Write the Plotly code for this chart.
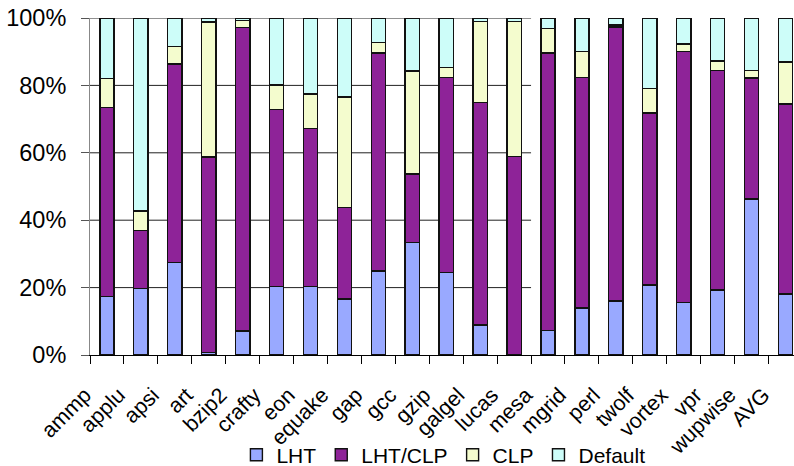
import plotly.graph_objects as go

# Benchmarks and the share (%) of each policy, stacked to 100%
benchmarks = ["ammp", "applu", "apsi", "art", "bzip2", "crafty", "eon", "equake",
              "gap", "gcc", "gzip", "galgel", "lucas", "mesa", "mgrid", "perl",
              "twolf", "vortex", "vpr", "wupwise", "AVG"]

lht = [17.3, 19.7, 27.5, 0.7, 7.1, 20.3, 20.3, 16.6, 24.9, 33.4, 24.4,
       8.9, 0.0, 7.2, 14.0, 16.0, 20.8, 15.5, 19.3, 46.3, 18.1]
lht_clp = [56.1, 17.2, 58.9, 58.1, 90.0, 52.6, 47.0, 27.1, 64.7, 20.3, 57.9,
           66.1, 58.9, 82.4, 68.3, 81.3, 51.0, 74.6, 65.1, 35.9, 56.4]
clp = [8.7, 5.8, 5.2, 40.0, 2.1, 7.2, 10.2, 32.8, 3.1, 30.6, 3.0,
       23.9, 40.0, 7.2, 7.8, 0.6, 7.3, 2.2, 2.9, 2.2, 12.4]
default = [17.9, 57.3, 8.4, 1.2, 0.8, 19.9, 22.5, 23.5, 7.3, 15.7, 14.7,
           1.1, 1.1, 3.2, 9.9, 2.1, 20.9, 7.7, 12.7, 15.6, 13.1]

series_names = ["LHT", "LHT/CLP", "CLP", "Default"]
series_values = [lht, lht_clp, clp, default]
series_colors = ["#99A9FF", "#8E2398", "#F4FCCE", "#CDFDF9"]

y_ticks = [0, 20, 40, 60, 80, 100]
y_tick_labels = [f"{v}%" for v in y_ticks]

FONT = "Liberation Sans, Arial, sans-serif"

fig = go.Figure()
for name, vals, color in zip(series_names, series_values, series_colors):
    fig.add_trace(go.Bar(
        x=benchmarks, y=vals, name=name,
        marker=dict(color=color, line=dict(color="#111111", width=1.4)),
    ))

# horizontal grid lines, drawn behind the bars over the first group of benchmarks
for v in y_ticks[1:]:
    fig.add_shape(type="line", xref="x", yref="y", x0=-0.5, x1=12.5, y0=v, y1=v,
                  line=dict(color="#222222", width=1), layer="below")

fig.update_layout(
    width=794, height=466,
    margin=dict(l=90, r=0, t=18, b=111, autoexpand=False),
    barmode="stack",
    bargap=0.58,
    plot_bgcolor="white",
    paper_bgcolor="white",
    font=dict(family=FONT, color="black"),
    showlegend=True,
    legend=dict(
        orientation="h", traceorder="normal",
        x=0.502, xanchor="center",
        y=-0.297, yanchor="middle",
        font=dict(size=21, family=FONT),
        itemwidth=30, itemclick=False,
        bgcolor="rgba(0,0,0,0)",
    ),
)

fig.update_xaxes(
    type="category",
    range=[-0.5, 20.25],
    showgrid=False,
    showline=True, linecolor="black", linewidth=1,
    ticks="outside", tickson="boundaries", ticklen=8, tickcolor="black",
    tickangle=-45,
    ticklabelshift=-22,
    ticklabelstandoff=18,
    tickfont=dict(size=21.5, family=FONT),
)

fig.update_yaxes(
    range=[0, 100],
    tickmode="array",
    tickvals=y_ticks,
    ticktext=y_tick_labels,
    showgrid=False,
    zeroline=False,
    showline=True, linecolor="#888888", linewidth=1,
    ticks="outside", ticklen=8, tickcolor="#555555",
    ticklabelstandoff=10,
    tickfont=dict(size=23.5, family=FONT),
)

fig.write_html("out.html")
